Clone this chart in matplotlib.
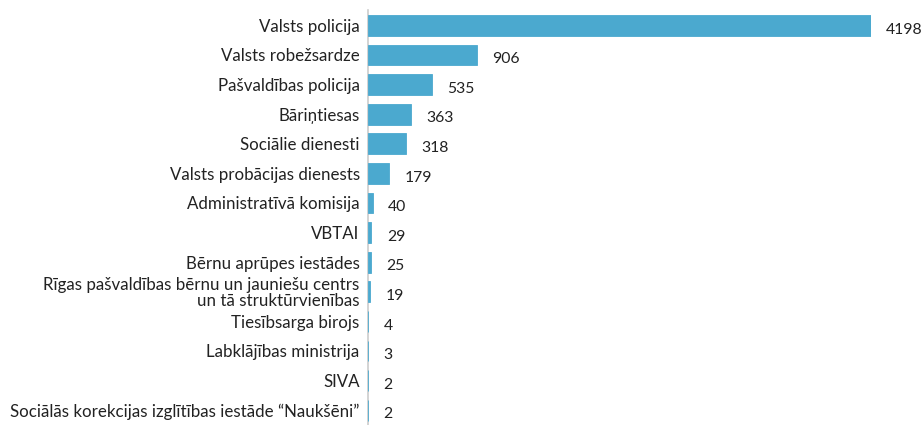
import matplotlib.pyplot as plt

plt.rcParams['font.family'] = ['Lato', 'DejaVu Sans']

labels = ['Valsts policija', 'Valsts robežsardze', 'Pašvaldības policija',
          'Bāriņtiesas', 'Sociālie dienesti', 'Valsts probācijas dienests',
          'Administratīvā komisija', 'VBTAI', 'Bērnu aprūpes iestādes',
          'Rīgas pašvaldības bērnu un jauniešu centrs\nun tā struktūrvienības',
          'Tiesībsarga birojs', 'Labklājības ministrija', 'SIVA',
          'Sociālās korekcijas izglītības iestāde “Naukšēni”']
values = [4198, 906, 535, 363, 318, 179, 40, 29, 25, 19, 4, 3, 2, 2]

fig = plt.figure(figsize=(9.22, 4.25), dpi=100)
ax = fig.add_axes([368/922, 0, (871-368)/922, 415/425])

pos = list(range(len(values)))
bars = ax.barh(pos, values, height=0.7, color='#4ba9cf', edgecolor='#4ba9cf',
               linewidth=0.6, zorder=3)
ax.set_ylim(len(values) - 0.5, -0.52)
ax.set_xlim(0, max(values))

for y, v in zip(pos, values):
    ax.annotate(str(v), (v, y), xytext=(11, -3), textcoords='offset points',
                va='center', ha='left', fontsize=11.3, color='#222222',
                annotation_clip=False)

ax.set_yticks(pos)
ax.set_yticklabels(labels, fontsize=12.2, color='#222222', linespacing=0.95)
ax.tick_params(axis='y', length=0, pad=6)
ax.set_xticks([])
for s in ['top', 'right', 'bottom']:
    ax.spines[s].set_visible(False)
ax.spines['left'].set_color('#cccccc')
ax.spines['left'].set_linewidth(1.2)
ax.spines['left'].set_zorder(1)

fig.savefig('out.png', dpi=100)
